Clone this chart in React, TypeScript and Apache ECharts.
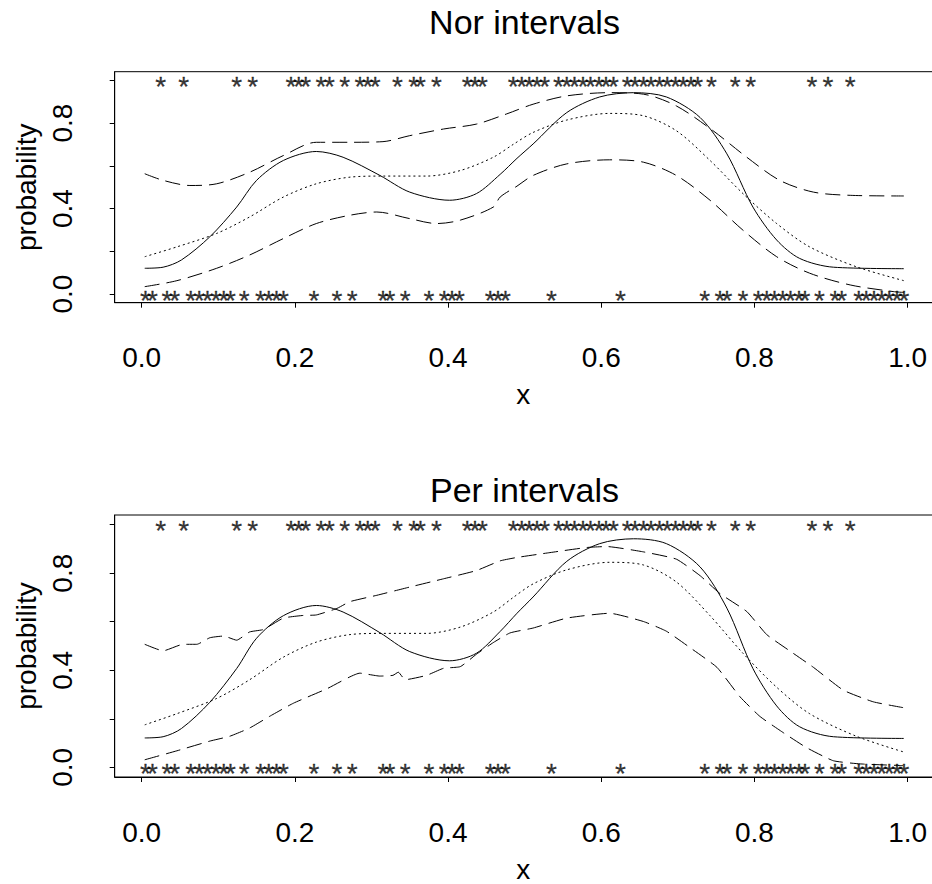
import React, { useEffect, useRef } from "react";
import * as echarts from "echarts";

const FONT = "Liberation Sans, Arial, Helvetica, sans-serif";

const panelTitles = ["Nor intervals", "Per intervals"];
const xTicks = [0, 0.2, 0.4, 0.6, 0.8, 1.0];
const yTicks = [0, 0.2, 0.4, 0.6, 0.8, 1.0];
const yLabelTicks = [0, 0.4, 0.8];

// observations with response 1 (top row of asterisks)
const onesX = [0.025, 0.055, 0.124, 0.145, 0.195, 0.205, 0.214, 0.234, 0.245, 0.265, 0.285, 0.295, 0.305,
  0.334, 0.355, 0.364, 0.385, 0.425, 0.435, 0.445, 0.485, 0.496, 0.506, 0.516, 0.526, 0.544, 0.555, 0.565,
  0.576, 0.586, 0.597, 0.606, 0.616, 0.634, 0.644, 0.655, 0.665, 0.676, 0.686, 0.697, 0.707, 0.717, 0.726,
  0.744, 0.775, 0.795, 0.875, 0.896, 0.925];
// observations with response 0 (bottom row of asterisks)
const zerosX = [0.005, 0.014, 0.033, 0.043, 0.064, 0.075, 0.086, 0.097, 0.107, 0.116, 0.134, 0.155, 0.166,
  0.176, 0.185, 0.225, 0.255, 0.275, 0.315, 0.324, 0.344, 0.375, 0.395, 0.405, 0.415, 0.455, 0.465, 0.475,
  0.535, 0.625, 0.735, 0.755, 0.764, 0.785, 0.805, 0.816, 0.826, 0.837, 0.847, 0.858, 0.866, 0.885, 0.905,
  0.914, 0.936, 0.946, 0.956, 0.966, 0.976, 0.986, 0.995];

const truth = [[0.004, 0.121], [0.028, 0.126], [0.052, 0.16], [0.089, 0.268], [0.124, 0.407], [0.15, 0.532],
  [0.185, 0.625], [0.228, 0.667], [0.263, 0.64], [0.311, 0.555], [0.35, 0.477], [0.402, 0.439], [0.437, 0.47],
  [0.468, 0.56], [0.49, 0.635], [0.511, 0.702], [0.555, 0.849], [0.598, 0.922], [0.642, 0.942], [0.685, 0.922],
  [0.729, 0.826], [0.764, 0.656], [0.798, 0.407], [0.829, 0.253], [0.859, 0.167], [0.903, 0.126], [0.995, 0.119]];

const estimate = [[0.004, 0.175], [0.046, 0.221], [0.098, 0.284], [0.141, 0.361], [0.185, 0.454], [0.228, 0.516],
  [0.272, 0.547], [0.315, 0.552], [0.372, 0.552], [0.416, 0.578], [0.459, 0.64], [0.485, 0.7], [0.511, 0.756],
  [0.555, 0.814], [0.611, 0.845], [0.655, 0.834], [0.698, 0.764], [0.742, 0.625], [0.785, 0.47], [0.829, 0.33],
  [0.872, 0.221], [0.933, 0.128], [0.995, 0.063]];

const norUpper = [[0.004, 0.563], [0.028, 0.532], [0.063, 0.508], [0.098, 0.516], [0.141, 0.57], [0.185, 0.648],
  [0.228, 0.71], [0.272, 0.71], [0.315, 0.713], [0.35, 0.741], [0.394, 0.772], [0.437, 0.795], [0.476, 0.842],
  [0.511, 0.888], [0.555, 0.927], [0.611, 0.942], [0.655, 0.935], [0.698, 0.88], [0.746, 0.764], [0.79, 0.64],
  [0.833, 0.532], [0.877, 0.477], [0.925, 0.462], [0.995, 0.459]];

const norLower = [[0.004, 0.035], [0.046, 0.063], [0.098, 0.121], [0.141, 0.183], [0.185, 0.26], [0.228, 0.33],
  [0.272, 0.369], [0.307, 0.384], [0.35, 0.353], [0.385, 0.33], [0.416, 0.346], [0.459, 0.407], [0.468, 0.454],
  [0.49, 0.505], [0.511, 0.555], [0.555, 0.609], [0.611, 0.628], [0.655, 0.617], [0.698, 0.555], [0.742, 0.439],
  [0.785, 0.299], [0.829, 0.175], [0.872, 0.098], [0.925, 0.043], [0.981, 0.012], [0.995, 0.008]];

const perUpper = [[0.004, 0.507], [0.028, 0.48], [0.054, 0.507], [0.072, 0.507], [0.089, 0.534], [0.107, 0.541],
  [0.124, 0.524], [0.141, 0.558], [0.159, 0.568], [0.185, 0.615], [0.211, 0.626], [0.228, 0.628], [0.255, 0.655],
  [0.272, 0.683], [0.307, 0.709], [0.35, 0.743], [0.394, 0.777], [0.437, 0.811], [0.468, 0.851], [0.49, 0.865],
  [0.533, 0.885], [0.581, 0.906], [0.607, 0.91], [0.655, 0.888], [0.698, 0.858], [0.729, 0.79], [0.755, 0.716],
  [0.79, 0.642], [0.816, 0.547], [0.846, 0.48], [0.877, 0.412], [0.916, 0.318], [0.955, 0.27], [0.994, 0.246]];

const perLower = [[0.004, 0.031], [0.046, 0.068], [0.089, 0.108], [0.115, 0.128], [0.141, 0.162], [0.167, 0.21],
  [0.198, 0.264], [0.242, 0.324], [0.285, 0.388], [0.311, 0.376], [0.328, 0.379], [0.335, 0.392], [0.344, 0.361],
  [0.372, 0.379], [0.394, 0.408], [0.416, 0.415], [0.437, 0.466], [0.459, 0.514], [0.481, 0.554], [0.511, 0.574],
  [0.555, 0.615], [0.611, 0.635], [0.655, 0.601], [0.685, 0.561], [0.716, 0.493], [0.751, 0.412], [0.781, 0.291],
  [0.807, 0.21], [0.838, 0.142], [0.868, 0.081], [0.903, 0.027], [0.938, 0.014], [0.994, 0.007]];

const intervals = [
  [norUpper, norLower],
  [perUpper, perLower],
];

// plot boxes (the right edge lies just beyond the visible page, as in the reference)
const grids = [
  { left: 114.7, top: 71.7, width: 840, height: 231 },
  { left: 114.7, top: 515, width: 840, height: 266.7 },
];
const titleTops = [5, 473];
const X_MIN = -0.0352;
const X_MAX = X_MIN + 840 / 766;

export default function App() {
  const ref = useRef<HTMLDivElement>(null);
  useEffect(() => {
    if (!ref.current) return;
    const chart = echarts.init(ref.current, null, { renderer: "svg" });
    const xAxis: any[] = [];
    const yAxis: any[] = [];
    const series: any[] = [];
    const titles: any[] = [];
    grids.forEach((g, i) => {
      titles.push({
        text: panelTitles[i],
        left: 524.5,
        top: titleTops[i],
        padding: 0,
        textAlign: "center",
        textStyle: { fontFamily: FONT, fontSize: 34, fontWeight: "normal", color: "#000", lineHeight: 34 },
      });
      xAxis.push({
        type: "value",
        gridIndex: i,
        min: X_MIN,
        max: X_MAX,
        name: "x",
        nameLocation: "middle",
        nameGap: 78,
        nameTextStyle: { fontFamily: FONT, fontSize: 28, color: "#000", lineHeight: 28, padding: [0, 23, 0, 0] },
        axisLine: { show: true, onZero: false, lineStyle: { color: "#000", width: 1 } },
        axisTick: { show: true, length: 5, customValues: xTicks, lineStyle: { color: "#000" } },
        axisLabel: {
          show: true,
          customValues: xTicks,
          margin: 41,
          formatter: (v: number) => v.toFixed(1),
          fontFamily: FONT,
          fontSize: 28,
          color: "#000",
          lineHeight: 28,
        },
        splitLine: { show: false },
      });
      yAxis.push({
        type: "value",
        gridIndex: i,
        min: -0.04,
        max: 1.04,
        name: "probability",
        nameLocation: "middle",
        nameGap: 73,
        nameRotate: 90,
        nameTextStyle: { fontFamily: FONT, fontSize: 28, color: "#000", lineHeight: 28 },
        axisLine: { show: true, onZero: false, lineStyle: { color: "#000", width: 1 } },
        axisTick: { show: true, length: 5, customValues: yTicks, lineStyle: { color: "#000" } },
        axisLabel: {
          show: true,
          customValues: yLabelTicks,
          rotate: 90,
          margin: 38,
          formatter: (v: number) => v.toFixed(1),
          fontFamily: FONT,
          fontSize: 28,
          color: "#000",
          lineHeight: 28,
        },
        splitLine: { show: false },
      });
      const base = { xAxisIndex: i, yAxisIndex: i, silent: true };
      series.push({
        ...base,
        type: "line",
        name: "truth",
        data: truth,
        showSymbol: false,
        smooth: 0.3,
        lineStyle: { color: "#000", width: 1 },
      });
      series.push({
        ...base,
        type: "line",
        name: "estimate",
        data: estimate,
        showSymbol: false,
        smooth: 0.3,
        lineStyle: { color: "#000", width: 1, type: [2, 3] },
      });
      intervals[i].forEach((band, k) => {
        series.push({
          ...base,
          type: "line",
          name: k === 0 ? "upper" : "lower",
          data: band,
          showSymbol: false,
          smooth: i === 0 ? 0.3 : 0.15,
          lineStyle: { color: "#000", width: 1, type: [15, 7] },
        });
      });
      const starLabel = {
        show: true,
        position: [0, 6],
        align: "center",
        verticalAlign: "middle",
        formatter: "*",
        fontFamily: FONT,
        fontSize: 28,
        color: "#000",
        textBorderColor: "#000",
        textBorderWidth: 0.3,
      };
      series.push({
        ...base,
        type: "scatter",
        name: "y=1",
        data: onesX.map((x) => [x, 1]),
        symbolSize: 0,
        label: starLabel,
        labelLayout: { hideOverlap: false },
      });
      series.push({
        ...base,
        type: "scatter",
        name: "y=0",
        data: zerosX.map((x) => [x, 0]),
        symbolSize: 0,
        label: starLabel,
        labelLayout: { hideOverlap: false },
      });
    });
    chart.setOption({
      animation: false,
      backgroundColor: "#fff",
      title: titles,
      grid: grids.map((g) => ({ ...g, show: true, borderColor: "#000", borderWidth: 1, backgroundColor: "transparent" })),
      xAxis,
      yAxis,
      series,
    });
    return () => chart.dispose();
  }, []);
  return (
    <div
      style={{ position: "absolute", left: 0, top: 0, width: 932, height: 884, background: "#fff", overflow: "hidden" }}
    >
      <div ref={ref} style={{ width: 960, height: 884 }} />
    </div>
  );
}
